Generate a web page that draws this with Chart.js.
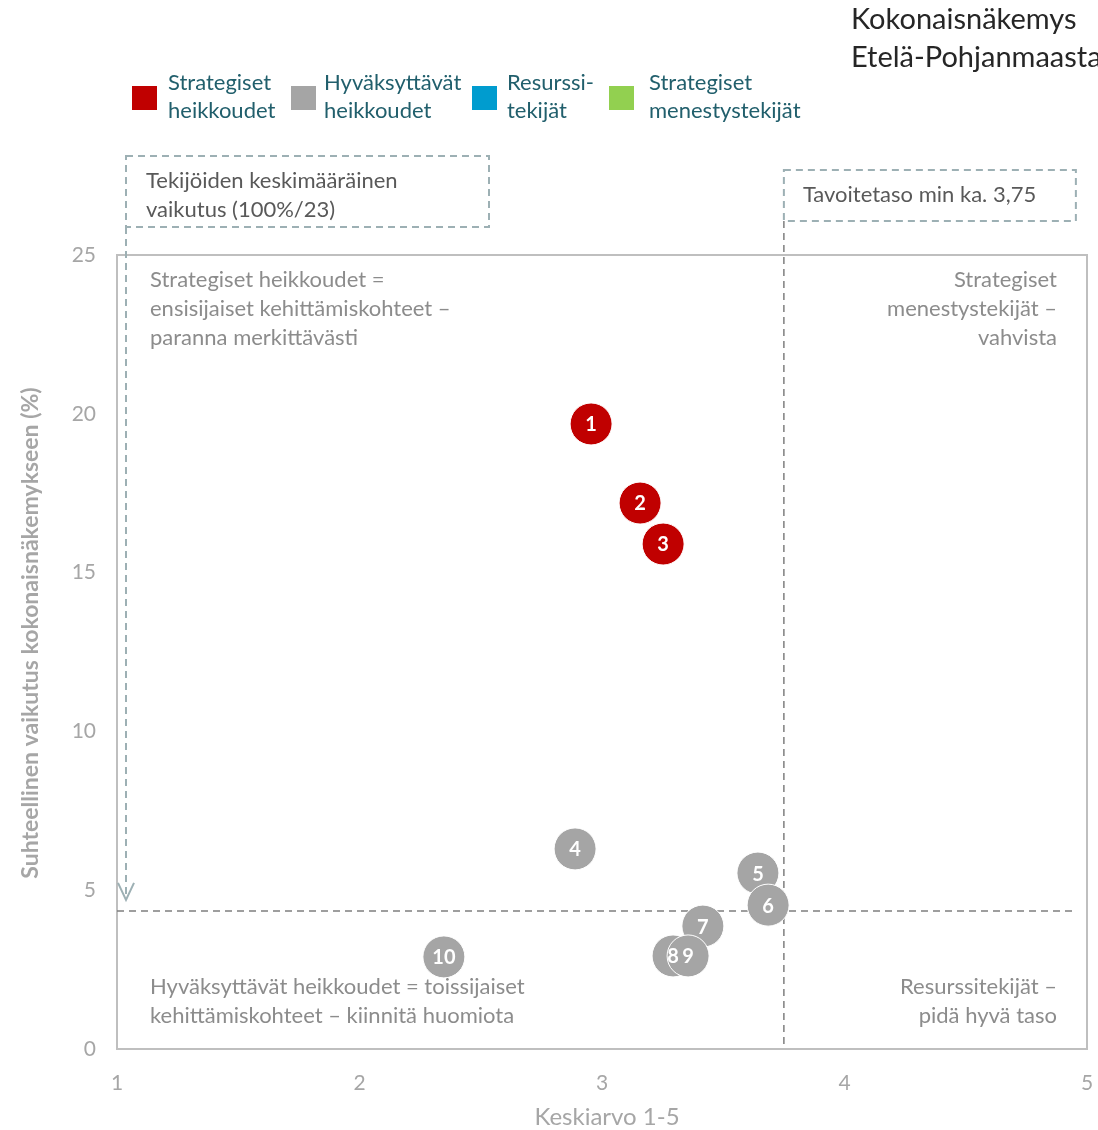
<!DOCTYPE html>
<html><head><meta charset="utf-8">
<script src="https://cdn.jsdelivr.net/npm/chart.js@4/dist/chart.umd.min.js"></script>
<style>html,body{margin:0;padding:0;background:#fff;overflow:hidden}canvas{display:block}</style>
</head><body>
<canvas id="c" width="1098" height="1130"></canvas>
<script>
const titleLines = ["Kokonaisnäkemys", "Etelä-Pohjanmaasta"];
const seriesNames = [["Strategiset","heikkoudet"],["Hyväksyttävät","heikkoudet"],["Resurssi-","tekijät"],["Strategiset","menestystekijät"]];
const seriesColors = ["#C00000","#A5A5A5","#009CCF","#92D050"];
const redLabels = ["1","2","3"];
const redX = [2.955, 3.157, 3.252];
const redY = [19.68, 17.19, 15.90];
const grayLabels = ["4","5","6","7","8","9","10"];
const grayX = [2.889, 3.643, 3.685, 3.416, 3.293, 3.355, 2.348];
const grayY = [6.30, 5.54, 4.53, 3.87, 2.93, 2.93, 2.90];
const xTicks = [1,2,3,4,5];
const yTicks = [0,5,10,15,20,25];
const avgImpact = 100/23;
const targetLevel = 3.75;
const xTitle = "Keskiarvo 1-5";
const yTitle = "Suhteellinen vaikutus kokonaisnäkemykseen (%)";
const avgBoxText = ["Tekijöiden keskimääräinen","vaikutus (100%/23)"];
const targetBoxText = ["Tavoitetaso min ka. 3,75"];
const quadTL = ["Strategiset heikkoudet =","ensisijaiset kehittämiskohteet –","paranna merkittävästi"];
const quadTR = ["Strategiset","menestystekijät –","vahvista"];
const quadBL = ["Hyväksyttävät heikkoudet = toissijaiset","kehittämiskohteet – kiinnitä huomiota"];
const quadBR = ["Resurssitekijät –","pidä hyvä taso"];

const FONT = "Lato, 'Open Sans', sans-serif";
const toPts = (xs, ys) => xs.map((x,i)=>({x:x,y:ys[i]}));

const overlay = {
  id:'overlay',
  beforeDatasetsDraw(chart){
    const ctx = chart.ctx, a = chart.chartArea, xs = chart.scales.x, ys = chart.scales.y;
    ctx.save();
    // plot frame
    ctx.strokeStyle = '#BFBFBF'; ctx.lineWidth = 2;
    ctx.strokeRect(a.left, a.top, a.right-a.left, a.bottom-a.top);
    // quadrant texts
    ctx.fillStyle = '#8C8C8C'; ctx.font = '22px ' + FONT; ctx.textBaseline = 'middle';
    ctx.textAlign = 'left';
    quadTL.forEach((t,i)=>ctx.fillText(t, a.left+33, a.top+25+i*29));
    quadBL.forEach((t,i)=>ctx.fillText(t, a.left+33, a.bottom-62+i*29));
    ctx.textAlign = 'right';
    quadTR.forEach((t,i)=>ctx.fillText(t, a.right-30, a.top+25+i*29));
    quadBR.forEach((t,i)=>ctx.fillText(t, a.right-30, a.bottom-62+i*29));
    // axis titles
    ctx.fillStyle = '#A6A6A6'; ctx.textAlign = 'center';
    ctx.font = '24px ' + FONT;
    ctx.fillText(xTitle, 607, 1117);
    ctx.save();
    ctx.translate(31, 633); ctx.rotate(-Math.PI/2);
    ctx.font = 'bold 23px ' + FONT;
    ctx.fillText(yTitle, 0, 0);
    ctx.restore();
    // average impact line
    const yAvg = ys.getPixelForValue(avgImpact);
    const xT = xs.getPixelForValue(targetLevel);
    ctx.setLineDash([7,5]); ctx.lineWidth = 1.5; ctx.strokeStyle = '#7F7F7F';
    ctx.beginPath(); ctx.moveTo(a.left, yAvg); ctx.lineTo(a.right-10, yAvg); ctx.stroke();
    // target vertical line
    ctx.beginPath(); ctx.moveTo(xT, 221); ctx.lineTo(xT, a.bottom-4); ctx.stroke();
    // callout boxes
    ctx.strokeStyle = '#9DB0B4'; ctx.lineWidth = 2;
    ctx.strokeRect(126, 156, 363, 71);
    ctx.strokeRect(xT, 170, 292, 51);
    // arrow line
    ctx.beginPath(); ctx.moveTo(126, 227); ctx.lineTo(126, yAvg-12); ctx.stroke();
    ctx.setLineDash([]);
    ctx.beginPath(); ctx.moveTo(118, yAvg-28); ctx.lineTo(126, yAvg-11); ctx.lineTo(134, yAvg-28); ctx.stroke();
    ctx.fillStyle = '#595959'; ctx.textAlign = 'left'; ctx.font = '22px ' + FONT;
    avgBoxText.forEach((t,i)=>ctx.fillText(t, 146, 181+i*29));
    targetBoxText.forEach((t,i)=>ctx.fillText(t, xT+19, 195+i*29));
    // title
    ctx.fillStyle = '#262626'; ctx.font = '29px ' + FONT;
    titleLines.forEach((t,i)=>ctx.fillText(t, 851, 20+i*38));
    // legend
    const lx = [132, 291, 472, 609];
    const tx = [168, 324, 507, 649];
    ctx.font = '22px ' + FONT;
    seriesNames.forEach((n,i)=>{
      ctx.fillStyle = seriesColors[i];
      ctx.fillRect(lx[i], 86, 25, 24);
      ctx.fillStyle = '#215F6C';
      n.forEach((t,j)=>ctx.fillText(t, tx[i], 83+j*28));
    });
    ctx.restore();
  },
  afterDatasetsDraw(chart){
    const ctx = chart.ctx;
    ctx.save();
    ctx.fillStyle = '#fff'; ctx.font = 'bold 20px ' + FONT;
    ctx.textAlign = 'center'; ctx.textBaseline = 'middle';
    chart.data.datasets.forEach((ds,di)=>{
      const meta = chart.getDatasetMeta(di);
      meta.data.forEach((el,i)=>{
        if (ds.labels && ds.labels[i]) ctx.fillText(ds.labels[i], el.x, el.y+1);
      });
    });
    ctx.restore();
  }
};

new Chart(document.getElementById('c'), {
  type:'scatter',
  data:{datasets:[
    {label:seriesNames[1].join(' '), labels:grayLabels, data:toPts(grayX,grayY), backgroundColor:seriesColors[1], borderColor:'#fff', borderWidth:1, pointRadius:21, pointHoverRadius:21},
    {label:seriesNames[0].join(' '), labels:redLabels, data:toPts(redX,redY), backgroundColor:seriesColors[0], borderColor:'#fff', borderWidth:1, pointRadius:21, pointHoverRadius:21},
    {label:seriesNames[2].join(' '), data:[], backgroundColor:seriesColors[2]},
    {label:seriesNames[3].join(' '), data:[], backgroundColor:seriesColors[3]}
  ]},
  options:{
    responsive:false, animation:false, devicePixelRatio:1,
    layout:{autoPadding:false, padding:{top:255,right:11,left:0,bottom:0}},
    plugins:{legend:{display:false}, tooltip:{enabled:false}},
    scales:{
      x:{type:'linear', min:1, max:5,
        afterFit:s=>{s.height=81; s.paddingLeft=0; s.paddingRight=0;},
        afterBuildTicks:s=>{s.ticks = xTicks.map(v=>({value:v}));},
        grid:{display:false, drawTicks:false}, border:{display:false},
        ticks:{padding:22, color:'#A6A6A6', font:{family:FONT, size:21}},
        title:{display:false}
      },
      y:{type:'linear', min:0, max:25,
        afterFit:s=>{s.width=117; s.paddingTop=0; s.paddingBottom=0;},
        afterBuildTicks:s=>{s.ticks = yTicks.map(v=>({value:v}));},
        grid:{display:false, drawTicks:false}, border:{display:false},
        ticks:{padding:21, color:'#A6A6A6', font:{family:FONT, size:21}},
        title:{display:false}
      }
    }
  },
  plugins:[overlay]
});
</script>
</body></html>
